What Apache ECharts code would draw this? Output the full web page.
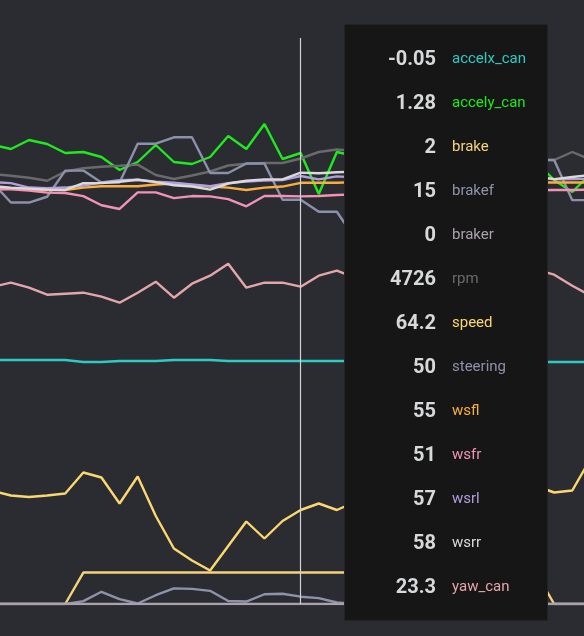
<!DOCTYPE html>
<html>
<head>
<meta charset="utf-8">
<script src="https://cdn.jsdelivr.net/npm/echarts@6/dist/echarts.min.js"></script>
<style>
  html, body { margin: 0; padding: 0; background: #2b2c32; }
  #chart { width: 584px; height: 636px; }
</style>
</head>
<body>
<div id="chart"></div>
<script>
const categories = Array.from({ length: 34 }, (_, i) => i);

const seriesNames = ['accelx_can', 'accely_can', 'brake', 'brakef', 'braker', 'rpm', 'speed', 'steering', 'wsfl', 'wsfr', 'wsrl', 'wsrr', 'yaw_can'];
const seriesColors = ['#2ccbc4', '#1eeb1e', '#f3d37c', '#8e93ab', '#aaa1ac', '#6a6a6a', '#fbd86f', '#8c91a9', '#fcae3c', '#f293b6', '#b09fdf', '#dadada', '#e3a6a9'];

const accelx_can = [-0.04, -0.04, -0.04, -0.04, -0.04, -0.06, -0.06, -0.05, -0.05, -0.05, -0.04, -0.04, -0.04, -0.05, -0.05, -0.05, -0.05, -0.05, -0.05, -0.05, -0.05, -0.04, -0.05, -0.06, -0.05, -0.04, -0.05, -0.06, -0.05, -0.06, -0.06, -0.06, -0.06, -0.06];
const accely_can = [1.36, 1.32, 1.41, 1.37, 1.28, 1.29, 1.24, 1.11, 1.19, 1.36, 1.19, 1.17, 1.24, 1.45, 1.32, 1.57, 1.22, 1.28, 0.87, 1.29, 1.25, 1.31, 1.22, 1.18, 1.27, 1.34, 1.21, 1.16, 1.24, 1.30, 1.19, 1.01, 0.89, 1.07];
const brake = [0, 0, 0, 0, 0, 2, 2, 2, 2, 2, 2, 2, 2, 2, 2, 2, 2, 2, 2, 2, 2, 2, 2, 2, 2, 2, 2, 2, 2, 2, 2, 0, 0, 0];
const brakef = [0, 0, 0, 0, 0, 6, 25, 10, 1, 18, 32, 31, 27, 6, 5, 20, 21, 15, 12, 3, 0, 0, 0, 0, 0, 0, 0, 0, 0, 0, 0, 0, 0, 0];
const braker = [0, 0, 0, 0, 0, 0, 0, 0, 0, 0, 0, 0, 0, 0, 0, 0, 0, 0, 0, 0, 0, 0, 0, 0, 0, 0, 0, 0, 0, 0, 0, 0, 0, 0];
const rpm = [4571, 4554, 4534, 4503, 4596, 4628, 4644, 4654, 4665, 4561, 4521, 4556, 4596, 4656, 4673, 4681, 4681, 4726, 4791, 4816, 4802, 4768, 4745, 4779, 4810, 4757, 4731, 4764, 4798, 4741, 4712, 4711, 4791, 4716];
const speed = [68.0, 67.1, 66.8, 67.1, 67.5, 71.7, 70.7, 65.5, 70.9, 63.0, 56.5, 54.1, 52.1, 57.0, 61.9, 58.5, 62.0, 64.2, 65.5, 64.2, 65.8, 67.0, 66.1, 64.9, 66.4, 67.8, 66.9, 65.7, 66.6, 67.4, 69.0, 67.7, 68.1, 74.4];
const steering = [54.9, 49.2, 49.2, 50.9, 58.6, 58.6, 55.1, 55.1, 66.5, 66.5, 68.4, 68.4, 57.9, 57.9, 60.7, 60.7, 50, 50, 46.5, 46.5, 38.6, 38.6, 42, 42, 48, 48, 52, 52, 58, 58, 61.7, 61.7, 49.9, 49.9];
const wsfl = [53.7, 53.4, 53.1, 52.9, 52.9, 53.6, 54.0, 54.0, 54.0, 54.5, 54.8, 54.3, 53.9, 53.6, 52.9, 53.6, 53.9, 55, 55, 55, 55.2, 55.4, 55.1, 54.9, 55.3, 55.6, 55.2, 55.0, 55.4, 55.3, 55.1, 55.1, 55.1, 55.1];
const wsfr = [53.1, 53.1, 52.7, 52.1, 52.0, 51.1, 48.4, 47.3, 52.2, 52.2, 50.5, 51.1, 51.0, 50.2, 48.1, 51.1, 51.1, 51, 51.1, 51.4, 51.6, 51.9, 52.3, 52.0, 51.5, 51.8, 52.4, 52.6, 52.1, 52.5, 52.8, 52.9, 52.9, 53.0];
const wsrl = [55.2, 54.9, 53.6, 53.4, 53.6, 54.2, 55.1, 55.8, 55.9, 55.3, 55.0, 54.5, 54.0, 54.9, 55.4, 55.7, 55.8, 57, 56.0, 56.9, 56.6, 57.1, 56.8, 56.3, 56.9, 57.4, 57.0, 56.5, 56.9, 57.2, 56.7, 56.0, 56.1, 56.2];
const wsrr = [54.0, 53.6, 53.3, 53.0, 52.9, 54.9, 54.9, 55.3, 55.9, 55.2, 54.3, 53.9, 53.0, 54.8, 55.6, 56.0, 56.0, 58, 57.8, 58.1, 58.3, 57.9, 57.4, 57.8, 58.2, 57.6, 57.1, 57.5, 57.9, 57.3, 56.9, 56.1, 56.7, 57.3];
const yaw_can = [23.3, 23.7, 23.2, 22.5, 22.6, 22.7, 22.3, 21.7, 22.7, 23.8, 22.2, 23.6, 24.4, 25.6, 23.2, 23.7, 23.7, 23.3, 24.4, 24.9, 24.2, 23.5, 24.8, 23.9, 22.9, 23.6, 24.5, 23.8, 24.1, 24.6, 25.0, 24.5, 23.4, 22.4];

const seriesData = [accelx_can, accely_can, brake, brakef, braker, rpm, speed, steering, wsfl, wsfr, wsrl, wsrr, yaw_can];

// visible window of the sample axis (the view is a crop of a longer trace)
const xWindow = [0.3976, 32.647];

// independent hidden value scales (one per signal group)
const axisRanges = [
  [-2.48, 3.18],    // accelx_can
  [-3.23, 2.43],    // accely_can
  [0, 36],          // brake
  [0, 1160],        // brakef
  [0, 100],         // braker
  [271, 5931],      // rpm
  [45.4, 158.6],    // speed
  [-68.9, 97.6],    // steering + wheel speeds
  [-8.43, 48.17]    // yaw_can
];
const seriesAxis = [0, 1, 2, 3, 4, 5, 6, 7, 7, 7, 7, 7, 8];
const hoverIndex = 17;

const chart = echarts.init(document.getElementById('chart'));
const fontStack = "Roboto, 'Open Sans', 'DejaVu Sans', sans-serif";

chart.setOption({
  backgroundColor: '#2b2c32',
  animation: false,
  grid: { left: 0, right: 0, top: 38, bottom: 32, containLabel: false },
  xAxis: {
    type: 'value',
    min: xWindow[0],
    max: xWindow[1],
    show: false,
    splitLine: { show: false }
  },
  yAxis: axisRanges.map(r => ({ type: 'value', min: r[0], max: r[1], show: false, splitLine: { show: false } })),
  tooltip: {
    trigger: 'axis',
    triggerOn: 'none',
    alwaysShowContent: true,
    transitionDuration: 0,
    axisPointer: { type: 'line', animation: false, snap: true, label: { show: false }, lineStyle: { color: '#d2d2d2', width: 1.2, type: 'solid' } },
    position: function () { return [344, 24]; },
    backgroundColor: '#161616',
    borderColor: '#232323',
    borderWidth: 1,
    padding: [11, 0],
    extraCssText: 'box-shadow:none;border-radius:2px;width:204px;height:597px;box-sizing:border-box;',
    formatter: function (params) {
      return params.map(p =>
        '<div style="display:flex;align-items:center;height:44px;">' +
        '<span style="display:inline-block;width:91px;text-align:right;font-family:' + fontStack + ';font-weight:700;font-size:20px;color:#d8d9da;">' + String(p.value[1]) + '</span>' +
        '<span style="display:inline-block;margin-left:16px;font-family:' + fontStack + ';font-size:15px;color:' + p.color + ';">' + p.seriesName + '</span>' +
        '</div>'
      ).join('');
    }
  },
  series: seriesNames.map((name, i) => ({
    name: name,
    type: 'line',
    data: seriesData[i].map((v, k) => [categories[k], v]),
    yAxisIndex: seriesAxis[i],
    symbol: 'none',
    showSymbol: false,
    color: seriesColors[i],
    lineStyle: { width: 2.4, color: seriesColors[i] },
    emphasis: { disabled: true }
  }))
});

chart.dispatchAction({ type: 'showTip', seriesIndex: 0, dataIndex: hoverIndex });
</script>
</body>
</html>
